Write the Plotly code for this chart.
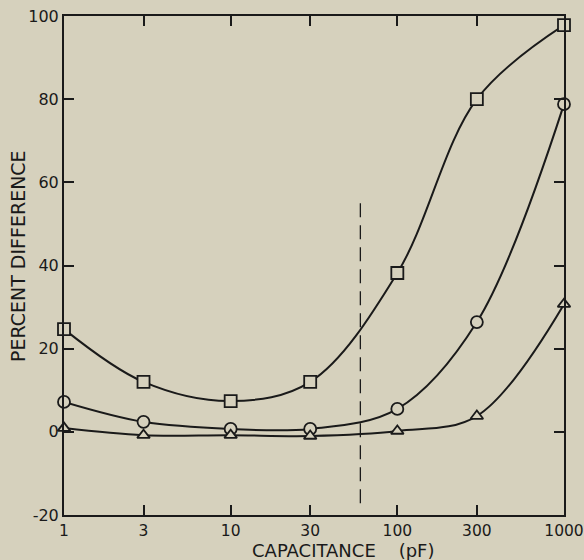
import plotly.graph_objects as go

# Data
capacitance = [1, 3, 10, 30, 100, 300, 1000]
square_vals = [24.7, 12.0, 7.4, 12.0, 38.2, 80.0, 97.8]
circle_vals = [7.2, 2.4, 0.7, 0.7, 5.5, 26.4, 78.8]
triangle_vals = [0.9, -0.8, -0.8, -1.0, 0.2, 3.8, 30.7]

dash_x = [60, 60]
dash_y = [55, -18]

x_ticks = [1, 3, 10, 30, 100, 300, 1000]
x_tick_text = ["1", "3", "10", "30", "100", "300", "1000"]
y_ticks = [-20, 0, 20, 40, 60, 80, 100]
y_tick_text = ["-20", "0", "20", "40", "60", "80", "100"]

x_title = "CAPACITANCE&nbsp;&nbsp;&nbsp;&nbsp;(pF)"
y_title = "PERCENT DIFFERENCE"

BG = "#d6d1bd"
INK = "#1a1a1a"
FONT = "DejaVu Sans, Liberation Sans, Arial, sans-serif"

fig = go.Figure()

fig.add_trace(go.Scatter(
    x=dash_x, y=dash_y, mode="lines",
    line=dict(color=INK, width=1.3, dash="14px,8px"),
    hoverinfo="skip", showlegend=False, cliponaxis=False))

for vals, sym, size in [(square_vals, "square", 12),
                        (circle_vals, "circle", 12),
                        (triangle_vals, "triangle-up", 11)]:
    fig.add_trace(go.Scatter(
        x=capacitance, y=vals, mode="lines+markers",
        line=dict(color=INK, width=2, shape="spline", smoothing=1.0),
        marker=dict(symbol=sym, size=size, color=BG,
                    line=dict(color=INK, width=1.8)),
        showlegend=False, cliponaxis=False))

fig.update_layout(
    width=584, height=560,
    paper_bgcolor=BG, plot_bgcolor=BG,
    margin=dict(l=64, r=20, t=16, b=45),
    font=dict(family=FONT, size=16, color=INK),
    annotations=[
        dict(text=x_title, xref="paper", yref="paper", x=0.558, y=-0.071,
             xanchor="center", yanchor="middle", showarrow=False,
             borderpad=0, font=dict(size=18)),
        dict(text=y_title, xref="paper", yref="paper", x=-0.092, y=0.519,
             xanchor="center", yanchor="middle", showarrow=False,
             borderpad=0, textangle=-90, font=dict(size=19)),
    ],
)

fig.update_xaxes(
    type="log", range=[0, 3], automargin=False,
    tickvals=x_ticks, ticktext=x_tick_text, tickfont=dict(size=15.5),
    ticks="inside", ticklen=10, tickwidth=2, tickcolor=INK,
    showline=True, linewidth=2, linecolor=INK, mirror="ticks",
    showgrid=False, zeroline=False,
)
fig.update_yaxes(
    range=[-20, 100], automargin=False,
    tickvals=y_ticks, ticktext=y_tick_text, tickfont=dict(size=16),
    ticks="inside", ticklen=10, tickwidth=2, tickcolor=INK,
    showline=True, linewidth=2, linecolor=INK, mirror="ticks",
    showgrid=False, zeroline=False,
)

fig.write_html(
    "out.html",
    config={"displayModeBar": False},
    post_script="document.body.style.margin='0';document.body.style.background='%s';" % BG,
)
